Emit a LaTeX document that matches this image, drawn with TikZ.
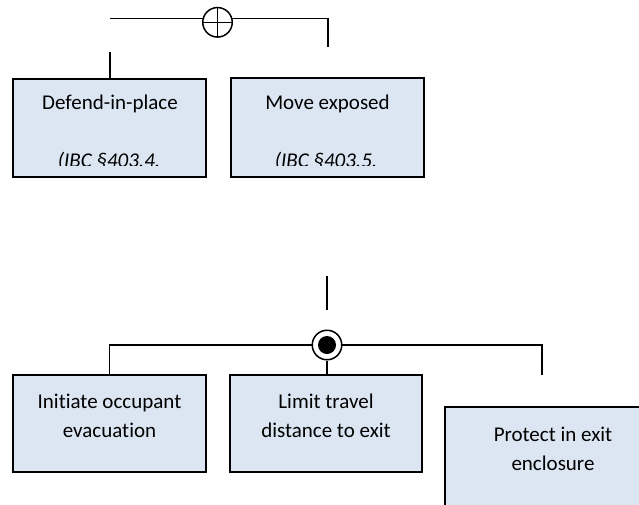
\documentclass[tikz,border=0pt]{standalone}
\usepackage{fontspec}
\setmainfont{Carlito}[Ligatures=NoCommon]
\definecolor{boxfill}{RGB}{220,230,242}
\tikzset{
  box/.style={draw=black, line width=1.6pt, fill=boxfill, inner sep=0pt},
  lbl/.style={font=\fontsize{21}{28.5}\selectfont, align=center, inner sep=0pt},
  cite/.style={font=\fontsize{21}{25}\selectfont\itshape, inner sep=0pt, anchor=base},
  wire/.style={line width=1.5pt},
  gate/.style={circle, draw=black, line width=1.5pt, fill=white, minimum size=29.5pt, inner sep=0pt},
  dot/.style={circle, fill=black, minimum size=18pt, inner sep=0pt}
}
\begin{document}
\begin{tikzpicture}[x=1pt,y=-1pt]
  \clip (0,0) rectangle (639,504);
  \fill[white] (0,0) rectangle (639,504);

  % ---- upper group: exclusive choice ----
  \node[box, minimum width=193pt, minimum height=98pt] (dip) at (109.5,128) {};
  \node[box, minimum width=193pt, minimum height=99pt] (mov) at (327.5,127.5) {};
  \node[lbl, anchor=base] (diptxt) at (110,109.5) {Defend-in-place};
  \node[lbl, anchor=base] (movtxt) at (327.5,109.5) {Move exposed};
  \begin{scope}
    \clip (dip.west |- 0,79) rectangle (mov.east |- 0,165.5);
    \node[cite] (dipref) at (109,167.5) {(IBC §403.4.};
    \node[cite] (movref) at (326,167.5) {(IBC §403.5.};
  \end{scope}

  \coordinate (ul) at (110,18.3);
  \coordinate (ur) at (328,18.3);
  \coordinate (urd) at (328,47);
  \coordinate (dipstub) at (110,52);
  \draw[wire] (ul) -- (ur) -- (urd);
  \draw[wire] (dipstub) -- (dipstub |- dip.north);
  \node[gate] (xor) at (217.5,22.3) {};
  \draw[wire] (xor.north) -- (xor.south) (xor.west) -- (xor.east);

  % ---- lower group: inclusive choice ----
  \node[box, minimum width=193pt, minimum height=97pt] (evac) at (109.5,423.5) {};
  \node[box, minimum width=192pt, minimum height=97pt] (trav) at (326,423.5) {};
  \node[box, minimum width=200pt, minimum height=130pt] (encl) at (545,472) {};
  \node[lbl] (evactxt) at (109.5,416) {Initiate occupant\\evacuation};
  \node[lbl] (travtxt) at (326,416) {Limit travel\\distance to exit};
  \node[lbl] (encltxt) at (553,449) {Protect in exit\\enclosure};

  \coordinate (in1) at (327,276);
  \coordinate (in2) at (327,310);
  \coordinate (bl) at (109.5,345);
  \coordinate (br) at (542,345);
  \coordinate (brd) at (542,375);
  \draw[wire] (in1) -- (in2);
  \draw[wire] (evac.north) -- (bl) -- (br) -- (brd);
  \node[gate] (ior) at (327,345) {};
  \node[dot] (iordot) at (ior.center) {};
  \draw[wire] (ior.south) -- (ior.south |- trav.north);
\end{tikzpicture}
\end{document}
